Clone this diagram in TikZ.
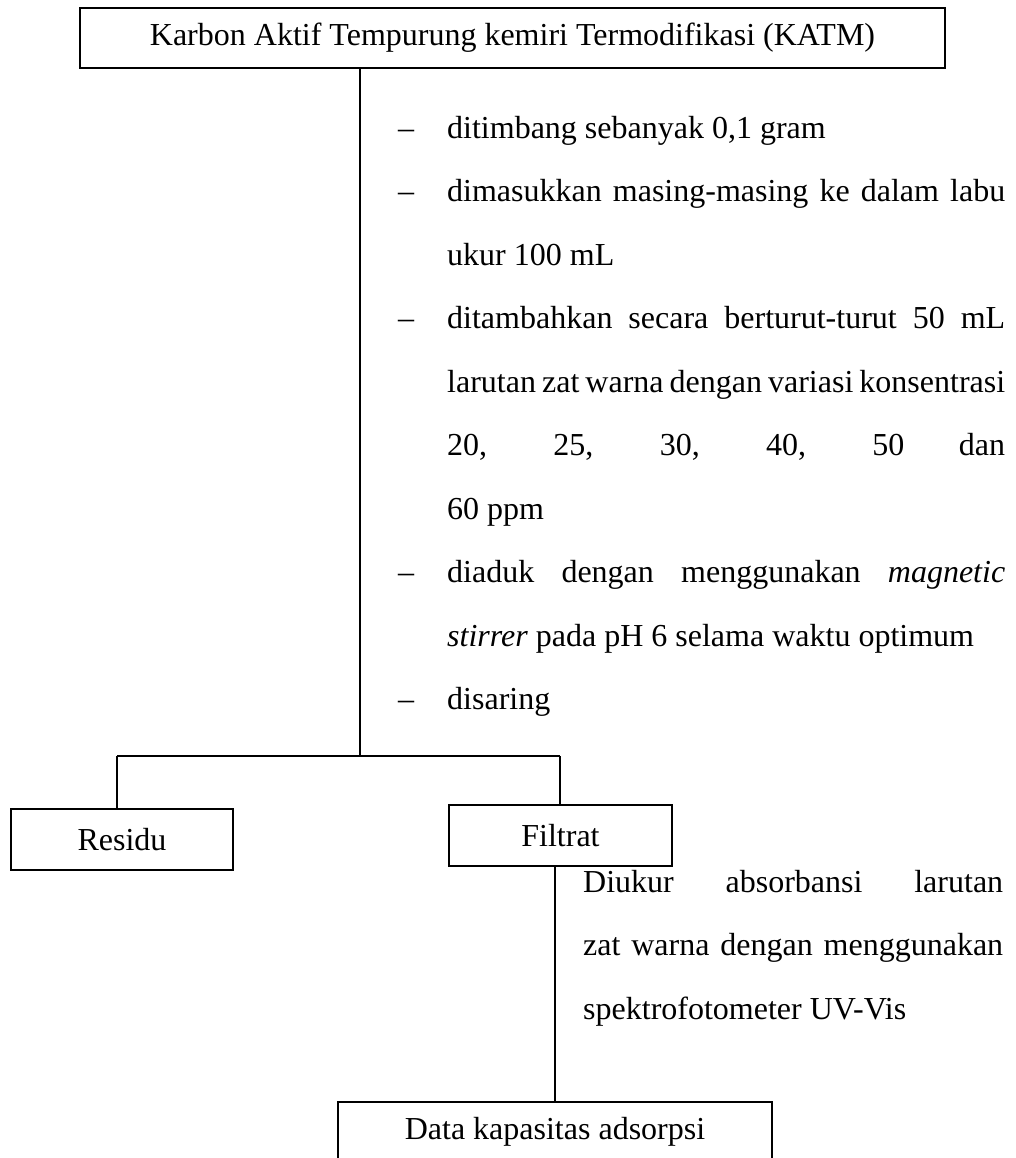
\documentclass[tikz,border=0pt]{standalone}
\usepackage{fontspec}
\setmainfont{Liberation Serif}

% body type: Times-width serif with 1.5-line spacing
\newcommand\bodyfont{\fontsize{32bp}{63.5bp}\selectfont}
% justified lines of the procedure text
\newcommand\jline[1]{\makebox[558bp][s]{\spaceskip=0.25em plus 0.5em minus 0.1em #1}}
\newcommand\fline[1]{\makebox[420bp][s]{\spaceskip=0.25em plus 0.5em minus 0.1em #1}}

\tikzset{
  box/.style={draw, line width=2.2bp, inner sep=0pt, minimum height=60bp, font=\bodyfont},
  conn/.style={line width=2bp},
  txt/.style={anchor=base west, inner sep=0pt, font=\bodyfont},
}

\begin{document}
\begin{tikzpicture}[x=1bp, y=-1bp]
  \useasboundingbox (0,0) rectangle (1016,1158);

  % boxes
  \node[box, minimum width=865bp] (katm) at (512.5,38)
    {Karbon Aktif Tempurung kemiri Termodifikasi (KATM)};
  \node[box, minimum width=222bp, minimum height=61bp] (res) at (122,839.5) {Residu};
  \node[box, minimum width=223bp, minimum height=61bp] (filt) at (560.5,835.5) {Filtrat};
  \node[box, minimum width=434bp] (data) at (555,1132) {Data kapasitas adsorpsi};

  % treatment steps applied to the carbon
  \node[txt] (d1)  at (398,138)   {–};
  \node[txt] (s1)  at (447,138)   {ditimbang sebanyak 0,1 gram};
  \node[txt] (d2)  at (398,201.5) {–};
  \node[txt] (s2a) at (447,201.5) {\jline{dimasukkan masing-masing ke dalam labu}};
  \node[txt] (s2b) at (447,265)   {ukur 100 mL};
  \node[txt] (d3)  at (398,328.5) {–};
  \node[txt] (s3a) at (447,328.5) {\jline{ditambahkan secara berturut-turut 50 mL}};
  \node[txt] (s3b) at (447,392)   {\jline{larutan zat warna dengan variasi konsentrasi}};
  \node[txt] (s3c) at (447,455.5) {\jline{20, 25, 30, 40, 50 dan}};
  \node[txt] (s3d) at (447,519)   {60 ppm};
  \node[txt] (d4)  at (398,582.5) {–};
  \node[txt] (s4a) at (447,582.5) {\jline{diaduk dengan menggunakan \textit{magnetic}}};
  \node[txt] (s4b) at (447,646)   {\textit{stirrer} pada pH 6 selama waktu optimum};
  \node[txt] (d5)  at (398,709.5) {–};
  \node[txt] (s5)  at (447,709.5) {disaring};

  % measurement of the filtrate
  \node[txt] (m1) at (583,892)    {\fline{Diukur absorbansi larutan}};
  \node[txt] (m2) at (583,955.5)  {\fline{zat warna dengan menggunakan}};
  \node[txt] (m3) at (583,1019)   {spektrofotometer UV-Vis};

  % connectors
  \coordinate (hub) at (360,756);
  \coordinate (jl) at (117,756);
  \coordinate (jr) at (560,756);
  \draw[conn] (katm.south -| hub) -- (hub);
  \draw[conn] (jl) -- (jr);
  \draw[conn] (jl) -- (jl |- res.north);
  \draw[conn] (jr) -- (jr |- filt.north);
  \draw[conn] (data.north |- filt.south) -- (data.north);
\end{tikzpicture}
\end{document}
